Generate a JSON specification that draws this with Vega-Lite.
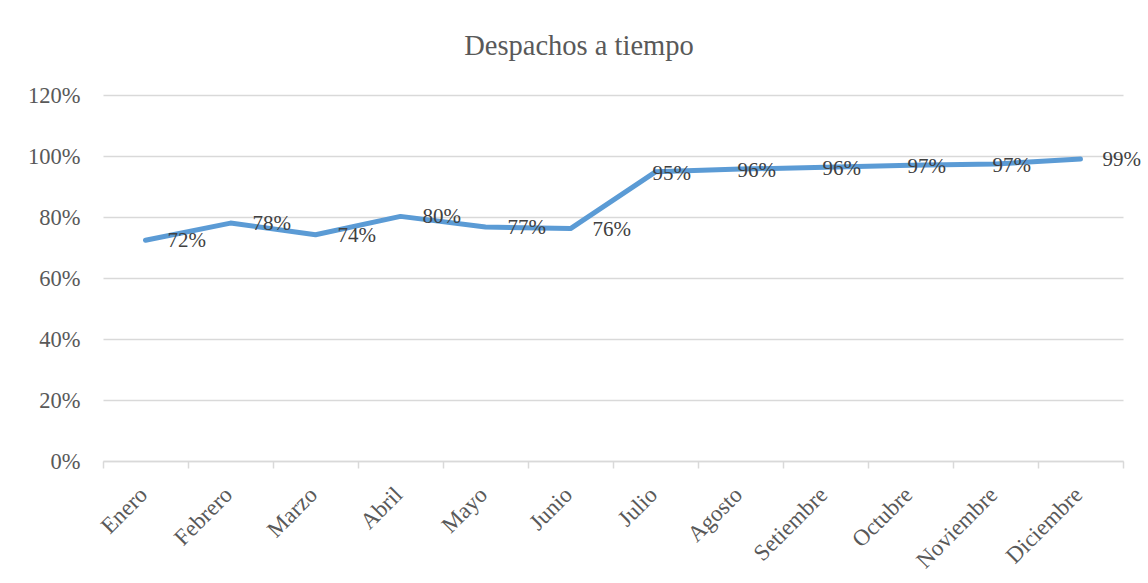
{
  "$schema": "https://vega.github.io/schema/vega-lite/v6.json",
  "width": 1020,
  "height": 366,
  "autosize": {"type": "none"},
  "padding": {"left": 103, "top": 95, "right": 25, "bottom": 122},
  "background": "white",
  "title": {
    "text": "Despachos a tiempo",
    "anchor": "middle",
    "dx": -34,
    "offset": 24,
    "fontSize": 28.5,
    "font": "Liberation Serif",
    "fontWeight": "normal",
    "color": "#595959"
  },
  "config": {"view": {"stroke": null}},
  "data": {
    "values": [
      {"mes": "Enero", "valor": 0.724},
      {"mes": "Febrero", "valor": 0.78},
      {"mes": "Marzo", "valor": 0.742},
      {"mes": "Abril", "valor": 0.802},
      {"mes": "Mayo", "valor": 0.767},
      {"mes": "Junio", "valor": 0.762},
      {"mes": "Julio", "valor": 0.948},
      {"mes": "Agosto", "valor": 0.957},
      {"mes": "Setiembre", "valor": 0.963},
      {"mes": "Octubre", "valor": 0.97},
      {"mes": "Noviembre", "valor": 0.974},
      {"mes": "Diciembre", "valor": 0.99}
    ]
  },
  "encoding": {
    "x": {
      "field": "mes",
      "type": "ordinal",
      "sort": null,
      "bandPosition": 0.5,
      "scale": {"type": "band", "paddingInner": 0, "paddingOuter": 0},
      "axis": {
        "title": null,
        "tickBand": "extent",
        "ticks": true,
        "tickSize": 7,
        "tickColor": "#d9d9d9",
        "tickWidth": 1.5,
        "domainColor": "#d9d9d9",
        "domainWidth": 1.5,
        "grid": false,
        "labelAngle": -45,
        "labelAlign": "right",
        "labelBaseline": "top",
        "labelOffset": -10,
        "labelFont": "Liberation Serif",
        "labelFontSize": 23,
        "labelColor": "#595959",
        "labelPadding": 15
      }
    },
    "y": {
      "field": "valor",
      "type": "quantitative",
      "scale": {"domain": [0, 1.2], "nice": false},
      "axis": {
        "title": null,
        "format": ".0%",
        "values": [0, 0.2, 0.4, 0.6, 0.8, 1.0, 1.2],
        "domain": false,
        "ticks": false,
        "grid": true,
        "gridColor": "#d9d9d9",
        "gridWidth": 1.5,
        "labelFont": "Liberation Serif",
        "labelFontSize": 22.5,
        "labelColor": "#595959",
        "labelPadding": 23
      }
    }
  },
  "layer": [
    {
      "mark": {"type": "line", "color": "#5b9bd5", "strokeWidth": 5, "strokeCap": "round", "strokeJoin": "round"}
    },
    {
      "transform": [{"filter": {"not": {"field": "mes", "oneOf": ["Julio", "Agosto", "Setiembre", "Octubre", "Noviembre"]}}}],
      "mark": {"type": "text", "align": "left", "baseline": "middle", "dx": 22, "dy": 1, "font": "Liberation Serif", "fontSize": 21, "color": "#404040"},
      "encoding": {"text": {"field": "valor", "type": "quantitative", "format": ".0%"}}
    },
    {
      "transform": [{"filter": {"field": "mes", "oneOf": ["Julio", "Agosto", "Setiembre", "Octubre", "Noviembre"]}}],
      "mark": {"type": "text", "align": "left", "baseline": "middle", "dx": -3, "dy": 2, "font": "Liberation Serif", "fontSize": 21, "color": "#404040"},
      "encoding": {"text": {"field": "valor", "type": "quantitative", "format": ".0%"}}
    }
  ]
}
